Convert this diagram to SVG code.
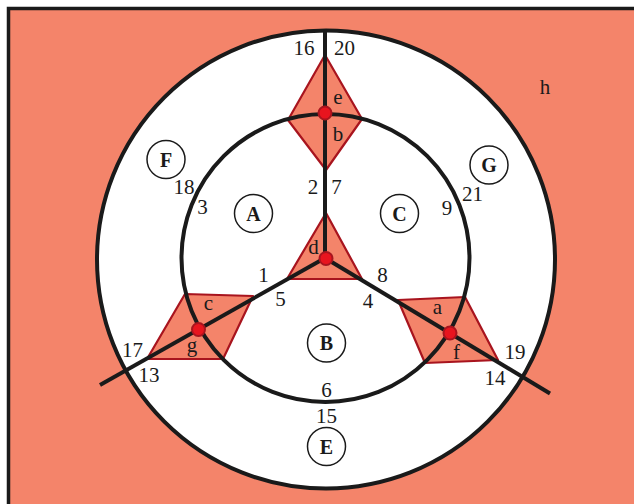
<svg xmlns="http://www.w3.org/2000/svg" width="634" height="504" viewBox="0 0 634 504">
<style>
.t{font-family:"Liberation Serif","Times New Roman",serif;font-size:21px;fill:#1a1a1a;text-anchor:middle}
.lb{font-family:"Liberation Serif","Times New Roman",serif;font-size:20px;font-weight:bold;fill:#1a1a1a;text-anchor:middle}
.lc{fill:none;stroke:#1a1a1a;stroke-width:1.5}
.rh{fill:#F4846A;stroke:#A8141E;stroke-width:2.2;stroke-linejoin:round}
.dot{fill:#E8141E;stroke:#A8141E;stroke-width:2}
.ln{stroke:#1a1a1a;stroke-width:4;fill:none;stroke-linecap:butt}
</style>
<rect x="0" y="0" width="634" height="504" fill="#ffffff"/>
<rect id="frame" x="8.5" y="8.5" width="640" height="510" fill="#F4846A" stroke="#1a1a1a" stroke-width="3.5"/>
<circle id="outer" cx="326" cy="259.5" r="229" fill="#ffffff" stroke="#1a1a1a" stroke-width="4"/>
<g id="regions">
<polygon id="rh-top" class="rh" points="325,55 362,119 326,170 288,120"/>
<polygon id="rh-sw" class="rh" points="185,294 253,296 223,359 147,359"/>
<polygon id="rh-se" class="rh" points="398,300 465,297 498,360 425,363"/>
<polygon id="tri-d" class="rh" points="326,213 362,279 287,279"/>
</g>
<circle id="inner" cx="325.5" cy="258" r="144" fill="none" stroke="#1a1a1a" stroke-width="4"/>
<g id="connectors">
<line class="ln" x1="325" y1="258" x2="325" y2="31"/>
<line class="ln" x1="325" y1="258" x2="100" y2="385"/>
<line class="ln" x1="325" y1="258" x2="550" y2="393.5"/>
</g>
<g id="dots">
<circle id="dot-e" class="dot" cx="325" cy="113" r="6.5"/>
<circle id="dot-d" class="dot" cx="326" cy="258.5" r="6.5"/>
<circle id="dot-g" class="dot" cx="198.5" cy="329.5" r="6.5"/>
<circle id="dot-f" class="dot" cx="450" cy="333" r="6.5"/>
</g>
<g id="node-A"><circle class="lc" cx="253.5" cy="213.5" r="19"/><text class="lb" x="253.5" y="220.5">A</text></g>
<g id="node-C"><circle class="lc" cx="399.5" cy="213.5" r="19"/><text class="lb" x="399.5" y="220.5">C</text></g>
<g id="node-B"><circle class="lc" cx="326.5" cy="343" r="19"/><text class="lb" x="326.5" y="350">B</text></g>
<g id="node-E"><circle class="lc" cx="326.5" cy="446.5" r="19"/><text class="lb" x="326.5" y="453.5">E</text></g>
<g id="node-F"><circle class="lc" cx="166" cy="159.5" r="19"/><text class="lb" x="166" y="166.5">F</text></g>
<g id="node-G"><circle class="lc" cx="489" cy="165" r="19"/><text class="lb" x="489" y="172">G</text></g>
<g id="labels">
<text class="t" x="304" y="55">16</text>
<text class="t" x="344.5" y="55">20</text>
<text class="t" x="338" y="104">e</text>
<text class="t" x="338" y="141">b</text>
<text class="t" x="313" y="194">2</text>
<text class="t" x="336.5" y="194">7</text>
<text class="t" x="313.5" y="254">d</text>
<text class="t" x="263.5" y="281.5">1</text>
<text class="t" x="382.5" y="281.5">8</text>
<text class="t" x="280.5" y="305.5">5</text>
<text class="t" x="368" y="307.5">4</text>
<text class="t" x="208.5" y="309.5">c</text>
<text class="t" x="192" y="351.5">g</text>
<text class="t" x="132.5" y="356.5">17</text>
<text class="t" x="149" y="381.5">13</text>
<text class="t" x="437.5" y="313.5">a</text>
<text class="t" x="456.5" y="358.5">f</text>
<text class="t" x="515" y="359">19</text>
<text class="t" x="495" y="385">14</text>
<text class="t" x="326.5" y="396.5">6</text>
<text class="t" x="326.5" y="422.5">15</text>
<text class="t" x="184" y="193.5">18</text>
<text class="t" x="202.5" y="213.5">3</text>
<text class="t" x="447" y="215">9</text>
<text class="t" x="472.5" y="200.5">21</text>
<text class="t" x="545" y="93.5">h</text>
</g>
</svg>
